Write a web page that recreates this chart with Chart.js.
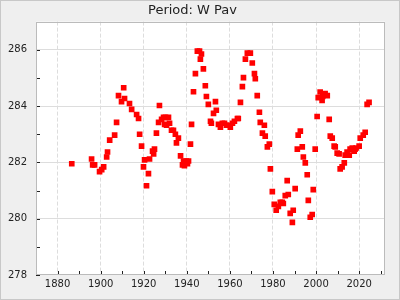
<!DOCTYPE html>
<html>
<head>
<meta charset="utf-8">
<script src="https://cdn.jsdelivr.net/npm/chart.js@4/dist/chart.umd.min.js"></script>
<style>
html,body{margin:0;padding:0;background:#efefef;}
#wrap{width:400px;height:300px;}
</style>
</head>
<body>
<div id="wrap"><canvas id="c" width="400" height="300"></canvas></div>
<script>
const titleText = "Period: W Pav";
const years = [1886.6,1895.8,1896.3,1897.2,1899.5,1900.5,1901.4,1902.8,1903.2,1904.2,1906.5,1907.4,1908.3,1909.7,1910.7,1911.1,1913.4,1914.4,1916.7,1917.6,1918.1,1919.0,1919.9,1920.4,1921.3,1922.2,1922.7,1924.1,1924.6,1925.0,1925.9,1926.9,1927.3,1928.3,1929.2,1929.7,1930.1,1930.6,1931.5,1932.0,1932.9,1933.8,1934.7,1935.2,1936.1,1937.1,1938.0,1938.5,1938.9,1939.8,1940.3,1940.8,1941.7,1942.2,1943.1,1944.0,1944.9,1945.9,1946.3,1946.8,1947.7,1948.6,1949.1,1950.0,1951.0,1951.4,1952.4,1953.3,1953.7,1954.7,1955.6,1956.5,1957.5,1958.4,1959.3,1960.2,1961.2,1962.1,1963.5,1963.9,1964.9,1965.8,1966.3,1967.2,1968.1,1969.5,1970.4,1971.4,1971.8,1972.7,1973.7,1974.1,1975.1,1976.0,1976.4,1977.4,1978.3,1978.8,1979.7,1980.6,1981.5,1982.5,1983.4,1984.3,1984.8,1985.7,1986.6,1987.1,1988.0,1989.0,1989.4,1990.3,1991.3,1991.7,1992.7,1993.6,1994.1,1995.0,1995.9,1996.4,1997.3,1998.2,1998.7,1999.6,2000.5,2001.0,2001.9,2002.8,2003.1,2004.2,2005.2,2006.1,2006.6,2007.5,2008.4,2008.9,2009.8,2010.7,2011.2,2012.1,2013.1,2013.5,2014.4,2015.4,2015.8,2016.8,2017.7,2018.1,2018.6,2020.0,2020.5,2021.9,2022.8,2023.7,2024.6];
const periods = [281.95,282.12,281.91,281.91,281.67,281.74,281.84,282.19,282.37,282.79,282.97,283.42,284.37,284.16,284.65,284.27,284.09,283.88,283.70,283.56,283.00,282.58,281.84,282.09,281.17,281.60,282.12,282.40,282.30,282.47,283.04,283.42,284.02,283.53,283.60,283.35,283.60,283.32,283.60,283.39,283.14,283.14,283.00,282.69,282.86,282.23,281.91,282.05,281.88,282.05,281.95,282.05,282.65,283.35,284.51,285.15,285.95,285.95,285.67,285.85,285.32,284.72,284.34,284.06,283.46,283.39,283.74,284.16,283.85,283.35,283.25,283.39,283.39,283.32,283.32,283.25,283.39,283.46,283.56,283.56,284.13,284.69,285.01,285.67,285.88,285.88,285.53,285.15,284.97,284.37,283.78,283.42,283.04,283.32,282.93,282.55,282.65,281.77,280.96,280.51,280.30,280.44,280.58,280.58,280.54,280.82,281.35,280.86,280.19,279.87,280.30,281.07,282.47,282.97,283.11,282.55,282.19,281.98,281.56,280.65,280.05,280.15,281.03,282.47,283.63,284.30,284.50,284.20,284.34,284.44,284.37,283.53,282.93,282.86,282.58,282.55,282.33,282.30,281.77,281.84,281.98,282.26,282.37,282.26,282.47,282.51,282.40,282.47,282.51,282.58,282.86,282.97,283.07,284.06,284.13];
const xTicks = [1870,1880,1890,1900,1910,1920,1930,1940,1950,1960,1970,1980,1990,2000,2010,2020,2030];
const xLabels = [1880,1900,1920,1940,1960,1980,2000,2020];
const yTicks = [278,279,280,281,282,283,284,285,286,287];
const yLabels = [278,280,282,284,286];

Chart.defaults.font.family = "'DejaVu Sans', sans-serif";
Chart.defaults.color = '#222';

const frame = {
  id: 'frame',
  beforeDraw(chart) {
    const {ctx, chartArea: a} = chart;
    ctx.save();
    ctx.fillStyle = '#efefef';
    ctx.fillRect(0, 0, chart.width, chart.height);
    ctx.strokeStyle = '#c8c8c8';
    ctx.lineWidth = 1;
    ctx.strokeRect(0.5, 0.5, chart.width - 1, chart.height - 1);
    ctx.fillStyle = '#ffffff';
    ctx.fillRect(a.left, a.top, a.right - a.left, a.bottom - a.top);
    ctx.restore();
  },
  beforeDatasetsDraw(chart) {
    const {ctx, chartArea: a, scales} = chart;
    ctx.save();
    ctx.strokeStyle = '#222';
    ctx.lineWidth = 1;
    ctx.beginPath();
    scales.x.ticks.forEach((t, i) => {
      const px = Math.round(scales.x.getPixelForTick(i)) + 0.5;
      ctx.moveTo(px, a.bottom);
      ctx.lineTo(px, a.bottom - 4);
    });
    scales.y.ticks.forEach((t, i) => {
      const py = Math.round(scales.y.getPixelForTick(i)) + 0.5;
      ctx.moveTo(a.left, py);
      ctx.lineTo(a.left + 4, py);
    });
    ctx.stroke();
    ctx.restore();
  },
  afterDraw(chart) {
    const {ctx, chartArea: a} = chart;
    ctx.save();
    ctx.strokeStyle = '#bbbbbb';
    ctx.lineWidth = 1;
    ctx.strokeRect(Math.round(a.left) + 0.5, Math.round(a.top) + 0.5, Math.round(a.right - a.left) - 1, Math.round(a.bottom - a.top) - 1);
    ctx.restore();
  }
};

new Chart(document.getElementById('c'), {
  type: 'scatter',
  data: {
    datasets: [{
      data: years.map((y, i) => ({x: y, y: periods[i]})),
      backgroundColor: '#ff0000',
      borderWidth: 0,
      pointStyle: 'rect',
      pointRadius: 4,
      pointHoverRadius: 4
    }]
  },
  options: {
    responsive: false,
    animation: false,
    devicePixelRatio: 1,
    layout: {padding: {left: 0, right: 15, top: 0, bottom: 0}},
    plugins: {
      legend: {display: false},
      tooltip: {enabled: false},
      title: {
        display: true,
        text: titleText,
        color: '#222',
        font: {size: 13, weight: 'normal'},
        padding: {top: 3, bottom: 3}
      }
    },
    scales: {
      x: {
        type: 'linear',
        min: 1870,
        max: 2032,
        afterBuildTicks(scale) { scale.ticks = xTicks.map(v => ({value: v})); },
        afterFit(scale) { scale.height = 25; },
        border: {display: false, dash: [4, 2]},
        grid: {
          drawTicks: false,
          color: c => (c.tick && xLabels.includes(c.tick.value)) ? '#dddddd' : 'rgba(0,0,0,0)'
        },
        ticks: {
          autoSkip: false,
          maxRotation: 0,
          padding: 3,
          font: {size: 10},
          callback: v => xLabels.includes(v) ? String(v) : ''
        }
      },
      y: {
        type: 'linear',
        min: 278,
        max: 287,
        afterBuildTicks(scale) { scale.ticks = yTicks.map(v => ({value: v})); },
        afterFit(scale) { scale.width = 36; },
        border: {display: false},
        grid: {
          drawTicks: false,
          color: c => (c.tick && yLabels.includes(c.tick.value) && c.tick.value !== 278) ? '#dddddd' : 'rgba(0,0,0,0)'
        },
        ticks: {
          autoSkip: false,
          padding: 9,
          font: {size: 10},
          callback: v => yLabels.includes(v) ? String(v) : ''
        }
      }
    }
  },
  plugins: [frame]
});
</script>
</body>
</html>
